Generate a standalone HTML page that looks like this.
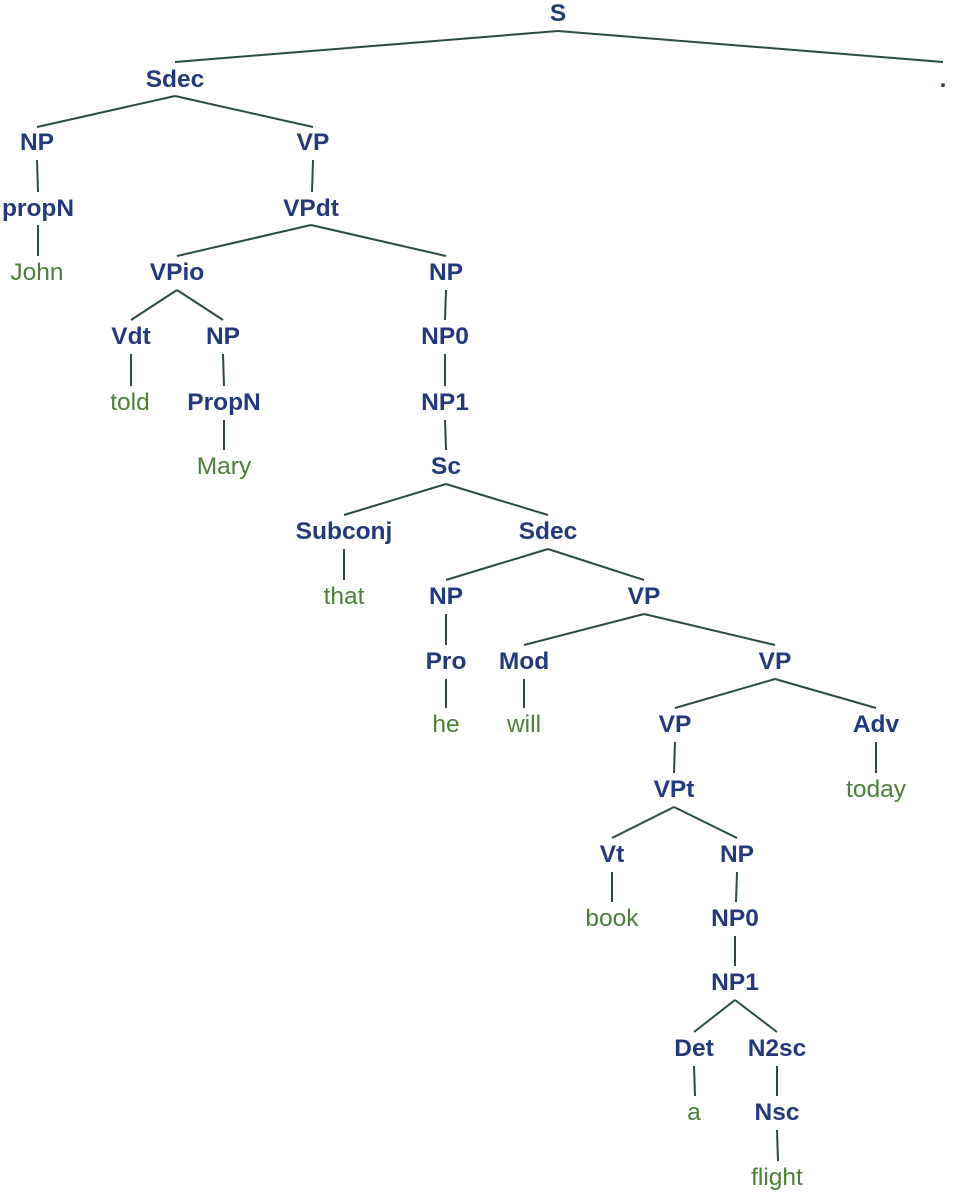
<!DOCTYPE html>
<html><head><meta charset="utf-8"><style>
html,body{margin:0;padding:0;background:#fff;}
svg{display:block;}
.n{font-family:"Liberation Sans",Arial,sans-serif;font-weight:bold;font-size:24.5px;fill:#24397a;text-anchor:middle;}
.t{font-family:"Liberation Sans",Arial,sans-serif;font-size:24.5px;fill:#4a8038;text-anchor:middle;}
line{stroke:#2c4a48;stroke-width:2;}
</style></head><body>
<svg width="956" height="1197" viewBox="0 0 956 1197" xmlns="http://www.w3.org/2000/svg">
<g>
<line x1="558" y1="31" x2="175" y2="62"/>
<line x1="558" y1="31" x2="943" y2="62"/>
<line x1="175" y1="96" x2="37" y2="127"/>
<line x1="175" y1="96" x2="313" y2="127"/>
<line x1="37" y1="160" x2="38" y2="192"/>
<line x1="313" y1="160" x2="312" y2="192"/>
<line x1="38" y1="225" x2="38" y2="256"/>
<line x1="311" y1="225" x2="177" y2="256"/>
<line x1="311" y1="225" x2="446" y2="256"/>
<line x1="177" y1="290" x2="131" y2="320"/>
<line x1="177" y1="290" x2="223" y2="320"/>
<line x1="446" y1="290" x2="445" y2="320"/>
<line x1="131" y1="354" x2="131" y2="386"/>
<line x1="223" y1="354" x2="224" y2="386"/>
<line x1="445" y1="354" x2="445" y2="386"/>
<line x1="224" y1="420" x2="224" y2="450"/>
<line x1="445" y1="420" x2="446" y2="450"/>
<line x1="446" y1="484" x2="344" y2="515"/>
<line x1="446" y1="484" x2="548" y2="515"/>
<line x1="344" y1="549" x2="344" y2="580"/>
<line x1="548" y1="549" x2="446" y2="580"/>
<line x1="548" y1="549" x2="644" y2="580"/>
<line x1="446" y1="614" x2="446" y2="645"/>
<line x1="644" y1="614" x2="524" y2="645"/>
<line x1="644" y1="614" x2="775" y2="645"/>
<line x1="446" y1="679" x2="446" y2="708"/>
<line x1="524" y1="679" x2="524" y2="708"/>
<line x1="775" y1="679" x2="675" y2="708"/>
<line x1="775" y1="679" x2="876" y2="708"/>
<line x1="675" y1="742" x2="674" y2="773"/>
<line x1="876" y1="742" x2="876" y2="773"/>
<line x1="674" y1="807" x2="612" y2="838"/>
<line x1="674" y1="807" x2="737" y2="838"/>
<line x1="612" y1="872" x2="612" y2="902"/>
<line x1="737" y1="872" x2="736" y2="902"/>
<line x1="735" y1="936" x2="735" y2="966"/>
<line x1="735" y1="1000" x2="694" y2="1032"/>
<line x1="735" y1="1000" x2="777" y2="1032"/>
<line x1="694" y1="1066" x2="695" y2="1096"/>
<line x1="777" y1="1066" x2="777" y2="1096"/>
<line x1="777" y1="1130" x2="778" y2="1161"/>
</g>
<g transform="translate(0,1)">
<text class="n" x="558" y="20">S</text>
<text class="n" x="175" y="86">Sdec</text>
<text class="n" x="943" y="86">.</text>
<text class="n" x="37" y="149">NP</text>
<text class="n" x="313" y="149">VP</text>
<text class="n" x="38" y="215">propN</text>
<text class="n" x="311" y="215">VPdt</text>
<text class="t" x="37" y="279">John</text>
<text class="n" x="177" y="279">VPio</text>
<text class="n" x="446" y="279">NP</text>
<text class="n" x="131" y="343">Vdt</text>
<text class="n" x="223" y="343">NP</text>
<text class="n" x="445" y="343">NP0</text>
<text class="t" x="130" y="409">told</text>
<text class="n" x="224" y="409">PropN</text>
<text class="n" x="445" y="409">NP1</text>
<text class="t" x="224" y="473">Mary</text>
<text class="n" x="446" y="473">Sc</text>
<text class="n" x="344" y="538">Subconj</text>
<text class="n" x="548" y="538">Sdec</text>
<text class="t" x="344" y="603">that</text>
<text class="n" x="446" y="603">NP</text>
<text class="n" x="644" y="603">VP</text>
<text class="n" x="446" y="668">Pro</text>
<text class="n" x="524" y="668">Mod</text>
<text class="n" x="775" y="668">VP</text>
<text class="t" x="446" y="731">he</text>
<text class="t" x="524" y="731">will</text>
<text class="n" x="675" y="731">VP</text>
<text class="n" x="876" y="731">Adv</text>
<text class="n" x="674" y="796">VPt</text>
<text class="t" x="876" y="796">today</text>
<text class="n" x="612" y="861">Vt</text>
<text class="n" x="737" y="861">NP</text>
<text class="t" x="612" y="925">book</text>
<text class="n" x="735" y="925">NP0</text>
<text class="n" x="735" y="989">NP1</text>
<text class="n" x="694" y="1055">Det</text>
<text class="n" x="777" y="1055">N2sc</text>
<text class="t" x="694" y="1119">a</text>
<text class="n" x="777" y="1119">Nsc</text>
<text class="t" x="777" y="1184">flight</text>
</g>
</svg>
</body></html>
